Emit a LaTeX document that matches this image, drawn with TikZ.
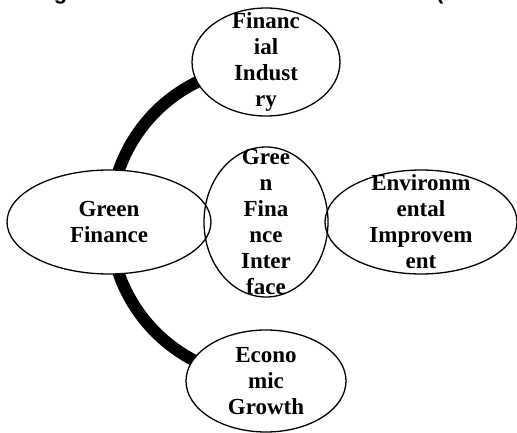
\documentclass[tikz,border=0pt]{standalone}
\usepackage{fontspec}
\setmainfont{Liberation Serif}
\newfontfamily\titlefont{Liberation Sans}
\usetikzlibrary{shapes.geometric,calc,backgrounds}
\begin{document}
\begin{tikzpicture}[x=1pt,y=1pt,
  bub/.style={ellipse, draw, line width=1.3pt, inner sep=0pt},
  lbl/.style={align=center, inner sep=0pt, font=\fontsize{23}{26}\selectfont\bfseries},
  link/.style={line width=12pt}]
\useasboundingbox (0,0) rectangle (517,432);
% title (cut off at the top edge)
\node[anchor=base west, inner sep=0pt, font=\titlefont\fontsize{22}{26}\selectfont\bfseries] (title) at (34,432.8) {Figure 1. The Green Finance Interface (Modified};
% ellipses
\node[bub, minimum width=148pt, minimum height=108pt] (fi) at (266,370) {};
\node[bub, minimum width=204pt, minimum height=104pt] (gf) at (109,210) {};
\node[bub, minimum width=124pt, minimum height=150pt] (gfi) at (266,210) {};
\node[bub, minimum width=192pt, minimum height=104pt] (env) at (421,210) {};
\node[bub, minimum width=160pt, minimum height=102pt] (eg) at (266,51) {};
% labels
\node[lbl] (fit) at (fi.center) {Financ\\ial\\Indust\\ry};
\node[lbl] (gft) at (gf.center) {Green\\Finance};
\node[lbl] (gfit) at (gfi.center) {Gree\\n\\Fina\\nce\\Inter\\face};
\node[lbl] (envt) at (env.center) {Environm\\ental\\Improvem\\ent};
\node[lbl] (egt) at (eg.center) {Econo\\mic\\Growth};
\coordinate (hub) at (gfi.center);
\begin{pgfonlayer}{background}
\draw[link] ($(hub)+(110:156)$) arc[start angle=110, end angle=250, radius=156pt];
\foreach \n/\w/\h in {fi/74/54, gf/102/52, gfi/62/75, env/96/52, eg/80/51}
  \fill[white] (\n.center) ellipse[x radius=\w pt, y radius=\h pt];
\end{pgfonlayer}
\end{tikzpicture}
\end{document}
